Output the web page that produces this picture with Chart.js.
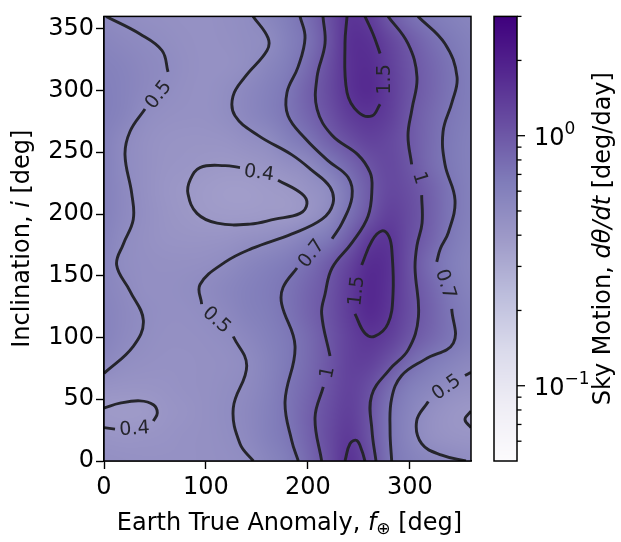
<!DOCTYPE html>
<html>
<head>
<meta charset="utf-8">
<title>Sky motion vs inclination</title>
<script src="https://cdn.jsdelivr.net/npm/chart.js@4.4.1/dist/chart.umd.min.js"></script>
<style>
  body { margin: 0; background: #fff; }
  canvas { display: block; }
</style>
</head>
<body>
<canvas id="skyChart" width="621" height="542"></canvas>
<script>
// grid the map was read on (deg)
const anomalyGrid = [0, 20, 40, 60, 80, 100, 120, 140, 160, 180, 200, 220, 240, 260, 280, 300, 320, 340, 360];
const inclinationGrid = [0, 20, 40, 60, 80, 100, 120, 140, 160, 180, 200, 220, 240, 260, 280, 300, 320, 340, 360];

// sky motion dθ/dt [deg/day], one row per inclination above (i = 0 first)
const skyMotion = [
  [0.47, 0.46, 0.45, 0.45, 0.45, 0.46, 0.47, 0.49, 0.55, 0.64, 0.82, 1.10, 1.60, 1.15, 0.72, 0.60, 0.55, 0.52, 0.49],
  [0.43, 0.42, 0.43, 0.44, 0.45, 0.46, 0.48, 0.52, 0.60, 0.69, 0.87, 1.15, 1.45, 1.05, 0.71, 0.55, 0.46, 0.43, 0.42],
  [0.39, 0.38, 0.39, 0.42, 0.44, 0.46, 0.49, 0.53, 0.60, 0.71, 0.88, 1.12, 1.35, 1.05, 0.71, 0.56, 0.47, 0.42, 0.40],
  [0.44, 0.43, 0.43, 0.44, 0.45, 0.46, 0.48, 0.51, 0.58, 0.70, 0.83, 1.05, 1.30, 1.12, 0.80, 0.62, 0.55, 0.49, 0.46],
  [0.53, 0.48, 0.46, 0.45, 0.45, 0.46, 0.47, 0.50, 0.57, 0.67, 0.80, 1.00, 1.30, 1.32, 1.05, 0.80, 0.66, 0.58, 0.53],
  [0.58, 0.52, 0.48, 0.46, 0.46, 0.47, 0.49, 0.54, 0.60, 0.68, 0.80, 1.00, 1.30, 1.50, 1.35, 1.03, 0.84, 0.71, 0.62],
  [0.58, 0.53, 0.49, 0.47, 0.47, 0.49, 0.53, 0.59, 0.64, 0.72, 0.86, 1.05, 1.38, 1.75, 1.50, 1.12, 0.90, 0.71, 0.62],
  [0.56, 0.51, 0.47, 0.47, 0.48, 0.51, 0.55, 0.60, 0.65, 0.72, 0.85, 1.03, 1.40, 1.80, 1.55, 1.10, 0.85, 0.68, 0.58],
  [0.56, 0.49, 0.47, 0.46, 0.46, 0.47, 0.50, 0.55, 0.60, 0.66, 0.76, 0.95, 1.25, 1.70, 1.60, 1.08, 0.78, 0.63, 0.56],
  [0.58, 0.50, 0.46, 0.44, 0.43, 0.43, 0.44, 0.46, 0.48, 0.52, 0.60, 0.68, 0.93, 1.40, 1.52, 1.12, 0.88, 0.68, 0.58],
  [0.60, 0.52, 0.47, 0.43, 0.41, 0.39, 0.38, 0.38, 0.385, 0.39, 0.42, 0.51, 0.73, 1.00, 1.32, 1.15, 0.92, 0.71, 0.60],
  [0.60, 0.52, 0.46, 0.42, 0.40, 0.38, 0.37, 0.37, 0.38, 0.395, 0.44, 0.49, 0.69, 0.95, 1.20, 1.10, 0.90, 0.71, 0.60],
  [0.60, 0.505, 0.46, 0.43, 0.42, 0.41, 0.40, 0.41, 0.43, 0.47, 0.51, 0.66, 0.83, 1.05, 1.20, 1.02, 0.80, 0.67, 0.60],
  [0.60, 0.51, 0.46, 0.44, 0.43, 0.43, 0.44, 0.47, 0.50, 0.60, 0.71, 0.90, 1.10, 1.30, 1.20, 0.99, 0.80, 0.67, 0.60],
  [0.62, 0.57, 0.49, 0.46, 0.45, 0.45, 0.48, 0.54, 0.60, 0.70, 0.85, 1.06, 1.38, 1.52, 1.35, 1.00, 0.82, 0.69, 0.62],
  [0.62, 0.58, 0.53, 0.49, 0.46, 0.45, 0.48, 0.54, 0.60, 0.69, 0.90, 1.15, 1.55, 1.75, 1.40, 1.05, 0.86, 0.72, 0.63],
  [0.60, 0.57, 0.53, 0.505, 0.47, 0.45, 0.45, 0.48, 0.55, 0.64, 0.80, 1.10, 1.58, 1.70, 1.35, 1.04, 0.85, 0.72, 0.62],
  [0.56, 0.53, 0.505, 0.48, 0.46, 0.45, 0.46, 0.48, 0.50, 0.60, 0.73, 1.03, 1.60, 1.60, 1.25, 0.97, 0.78, 0.67, 0.60],
  [0.51, 0.49, 0.47, 0.46, 0.45, 0.45, 0.47, 0.49, 0.55, 0.64, 0.78, 1.08, 1.52, 1.40, 0.98, 0.76, 0.66, 0.60, 0.56]
];

const xTicks = [0, 100, 200, 300];
const yTicks = [0, 50, 100, 150, 200, 250, 300, 350];
const colorbarRange = [0.05, 3];
const colorbarMajor = [0.1, 1];
const colorbarMinor = [0.06, 0.07, 0.08, 0.09, 0.2, 0.3, 0.4, 0.5, 0.6, 0.7, 0.8, 0.9, 2, 3];

// contour lines as [anomaly, inclination]; broken where a label sits
const c05WestA = [[2, 360], [35.3, 345.8], [56.9, 332.4], [62.8, 315]];
const c05WestB = [[40.2, 285], [25.5, 266.8], [20.6, 247.9], [27.2, 216.5], [28.7, 195.5], [19, 175.8], [12.4, 158.7], [25.5, 137.6], [38.6, 113.9], [28.7, 92.9], [0, 71]];
const c05MidA = [[146.2, 360], [160.9, 342.6], [159.9, 332.4], [138.3, 311], [126.5, 295.3], [128.5, 279.5], [151.1, 263.7], [184.4, 247.9], [204, 235.3], [221.7, 221.8], [224.6, 208.4], [213.9, 195.8], [184.4, 183.9], [145.2, 172.1], [118.7, 161], [94.2, 142.9], [95.8, 127.1]];
const c05MidB = [[126.8, 100.8], [140, 77.1], [126.8, 42.9], [133.4, 14], [146.5, 0]];
const c04Loop = [[170.7, 227.4], [194.2, 216.3], [199.1, 208.4], [192.3, 200.5], [167.7, 195.8], [143.2, 191.8], [110.9, 192.6], [91.2, 200.5], [82.4, 216.3], [84.4, 227.4], [94.2, 237.6], [118.7, 239.2], [133.4, 237.6]];
const c07MidA = [[192.3, 360], [197.2, 342.6], [190.3, 318.9], [179.5, 298.4], [180.5, 279.5], [197.2, 261.3], [219.7, 243.2], [239.4, 229.7], [243.3, 213.9], [233.5, 192.6], [223.7, 180]];
const c07MidB = [[189.3, 156.3], [175.6, 140.5], [174.3, 127.1], [187.4, 92.9], [177.6, 48.2], [184.1, 16.6], [190.6, 0]];
const c1WestA = [[214.8, 360], [216.8, 337.9], [209, 311], [209, 285], [223.7, 263.7], [249.2, 247.9], [261, 233.7], [262.9, 221.8], [259, 198.2], [243.3, 176.8], [223.7, 156.3], [216.8, 135], [213.5, 119.2], [221.7, 85]];
const c1WestB = [[215.1, 60], [207, 35], [213.5, 0]];
const c15NorthA = [[256, 360], [263.9, 345.8], [270.8, 330]];
const c15NorthB = [[270.8, 288.9], [262.9, 279.5], [249.2, 282.6], [238.4, 298.4], [236.4, 337.9], [238.4, 360]];
const c15Loop = [[252.8, 158.7], [262.9, 178.4], [272.7, 186.3], [279.6, 181.6], [282.5, 168.9], [283.5, 135], [278.6, 111.3], [265.8, 101.1], [256, 103.4], [246.2, 119.2]];
const c15South = [[236.4, 0], [241.3, 14], [247.9, 16.6], [252.8, 8.7], [256, 0]];
const c1EastA = [[278.6, 360], [298.2, 337.9], [307, 311], [302.1, 285], [298.2, 263.7], [301.8, 240.2]];
const c1EastB = [[311.6, 215.3], [312, 192.6], [307, 174.5], [305.1, 156.3], [308.4, 116.6], [298.5, 90.2], [280, 74], [262.5, 53], [262.9, 24.5], [266.8, 0]];
const c07EastA = [[308, 360], [334.5, 337.9], [346.3, 311], [341.4, 290.5], [332.6, 266.8], [334.5, 240], [344.3, 211.3], [337.8, 185], [330, 172], [326.4, 161.3]];
const c07EastB = [[341.1, 123.2], [342.7, 95.5], [314.9, 82.3], [292, 69.2], [282.2, 50.8], [280.6, 24.5], [282.2, 0]];
const c05EastA = [[360, 71.8], [354.1, 69.2]];
const c05EastB = [[318.1, 48.2], [306.7, 32.4], [311.6, 14], [331.3, 4.7], [355, 0]];
const c04East = [[360, 40.3], [354.1, 33.7], [360, 27]];
const c04WestA = [[0, 42.9], [15.7, 46.8], [35.3, 48.7], [48.4, 45.5], [52.3, 38.9], [48.4, 32.4]];
const c04WestB = [[10.8, 25.8], [0, 27]];

const contourSegments = [c05WestA, c05WestB, c05MidA, c05MidB, c04Loop, c07MidA, c07MidB, c1WestA, c1WestB,
  c15NorthA, c15NorthB, c15Loop, c15South, c1EastA, c1EastB, c07EastA, c07EastB, c05EastA, c05EastB, c04East, c04WestA, c04WestB];

// inline contour labels: level text, where it sits, and its tilt
const contourLabels = [
  { text: '0.5', x: 53, y: 296.8, angle: -52 },
  { text: '0.4', x: 152.1, y: 233.7, angle: 8 },
  { text: '0.5', x: 110.9, y: 114.5, angle: 42 },
  { text: '0.7', x: 203.1, y: 168.2, angle: -52 },
  { text: '1.5', x: 274.5, y: 309, angle: -90 },
  { text: '1', x: 310.5, y: 229.3, angle: 73 },
  { text: '1.5', x: 247.2, y: 137.8, angle: -84 },
  { text: '1', x: 218.8, y: 71.8, angle: -78 },
  { text: '0.7', x: 335.5, y: 143.3, angle: 72 },
  { text: '0.5', x: 335.5, y: 60, angle: -35 },
  { text: '0.4', x: 29.9, y: 26.4, angle: -4 }
];

const FONT = "'DejaVu Sans', sans-serif";
const LINE_COLOR = '#25252b';

// matplotlib "Purples"
const purples = [[252, 251, 253], [239, 237, 245], [218, 218, 235], [188, 189, 220], [158, 154, 200],
  [128, 125, 186], [106, 81, 163], [84, 39, 143], [63, 0, 125]];

function purpleFor(v) {
  const lo = Math.log(colorbarRange[0]), hi = Math.log(colorbarRange[1]);
  let t = (Math.log(v) - lo) / (hi - lo);
  t = Math.max(0, Math.min(1, t)) * (purples.length - 1);
  const i = Math.min(purples.length - 2, Math.floor(t));
  const f = t - i;
  const a = purples[i], b = purples[i + 1];
  return [0, 1, 2].map(k => Math.round(a[k] + (b[k] - a[k]) * f));
}

const heatmapPlugin = {
  id: 'heatmap',
  beforeDatasetsDraw(chart) {
    const { ctx, chartArea: area, scales: { x, y } } = chart;
    const nx = anomalyGrid.length, ny = inclinationGrid.length;
    const off = document.createElement('canvas');
    off.width = nx;
    off.height = ny;
    const octx = off.getContext('2d');
    const img = octx.createImageData(nx, ny);
    for (let r = 0; r < ny; r++) {
      const row = skyMotion[ny - 1 - r]; // top row of image = highest inclination
      for (let c = 0; c < nx; c++) {
        const rgb = purpleFor(row[c]);
        const k = (r * nx + c) * 4;
        img.data[k] = rgb[0];
        img.data[k + 1] = rgb[1];
        img.data[k + 2] = rgb[2];
        img.data[k + 3] = 255;
      }
    }
    octx.putImageData(img, 0, 0);

    const hx = (anomalyGrid[1] - anomalyGrid[0]) / 2;
    const hy = (inclinationGrid[1] - inclinationGrid[0]) / 2;
    const x0 = x.getPixelForValue(anomalyGrid[0] - hx);
    const x1 = x.getPixelForValue(anomalyGrid[nx - 1] + hx);
    const y0 = y.getPixelForValue(inclinationGrid[ny - 1] + hy);
    const y1 = y.getPixelForValue(inclinationGrid[0] - hy);

    ctx.save();
    ctx.beginPath();
    ctx.rect(area.left, area.top, area.right - area.left, area.bottom - area.top);
    ctx.clip();
    ctx.imageSmoothingEnabled = true;
    ctx.imageSmoothingQuality = 'high';
    ctx.drawImage(off, x0, y0, x1 - x0, y1 - y0);
    ctx.restore();
  }
};

// draws text made of plain / italic / small parts; align 'center' or 'left'
function drawRich(ctx, parts, x, y, angle, align) {
  ctx.save();
  ctx.translate(x, y);
  ctx.rotate(angle);
  ctx.textAlign = 'left';
  ctx.textBaseline = 'alphabetic';
  let total = 0;
  parts.forEach(p => {
    ctx.font = p.font;
    p.w = ctx.measureText(p.text).width;
    total += p.w;
  });
  let cx = align === 'left' ? 0 : -total / 2;
  parts.forEach(p => {
    ctx.font = p.font;
    ctx.fillText(p.text, cx, p.dy || 0);
    cx += p.w;
  });
  ctx.restore();
}

const decorPlugin = {
  id: 'decor',
  afterDatasetsDraw(chart) {
    const { ctx, chartArea: area, scales: { x, y } } = chart;

    // contour labels
    ctx.save();
    ctx.fillStyle = LINE_COLOR;
    ctx.font = '19px ' + FONT;
    ctx.textAlign = 'center';
    ctx.textBaseline = 'middle';
    contourLabels.forEach(l => {
      ctx.save();
      ctx.translate(x.getPixelForValue(l.x), y.getPixelForValue(l.y));
      ctx.rotate(l.angle * Math.PI / 180);
      ctx.fillText(l.text, 0, 1);
      ctx.restore();
    });
    ctx.restore();

    // axes frame
    ctx.save();
    ctx.strokeStyle = '#000';
    ctx.lineWidth = 1.5;
    ctx.strokeRect(area.left, area.top, area.right - area.left, area.bottom - area.top);
    ctx.restore();
  },
  afterDraw(chart) {
    const { ctx, chartArea: area, scales: { cb } } = chart;
    const cbLeft = area.right + 23, cbRight = area.right + 46;

    // colour bar
    ctx.save();
    for (let p = Math.floor(cb.top); p < cb.bottom; p++) {
      const rgb = purpleFor(cb.getValueForPixel(p + 0.5));
      ctx.fillStyle = `rgb(${rgb[0]},${rgb[1]},${rgb[2]})`;
      ctx.fillRect(cbLeft, p, cbRight - cbLeft, 1);
    }
    ctx.strokeStyle = '#000';
    ctx.lineWidth = 1.5;
    ctx.strokeRect(cbLeft, cb.top, cbRight - cbLeft, cb.bottom - cb.top);

    ctx.lineWidth = 1.3;
    colorbarMinor.forEach(v => {
      const py = cb.getPixelForValue(v);
      ctx.beginPath();
      ctx.moveTo(cbRight, py);
      ctx.lineTo(cbRight + 4.5, py);
      ctx.stroke();
    });
    ctx.fillStyle = '#000';
    colorbarMajor.forEach(v => {
      const py = cb.getPixelForValue(v);
      ctx.beginPath();
      ctx.moveTo(cbRight, py);
      ctx.lineTo(cbRight + 8, py);
      ctx.stroke();
      const exp = Math.round(Math.log10(v));
      drawRich(ctx, [
        { text: '10', font: '24px ' + FONT },
        { text: exp < 0 ? '\u2212' + (-exp) : String(exp), font: '17px ' + FONT, dy: -11 }
      ], cbRight + 17, py + 9.5, 0, 'left');
    });
    ctx.restore();

    // axis titles with math parts
    ctx.save();
    ctx.fillStyle = '#000';
    drawRich(ctx, [
      { text: 'Earth True Anomaly, ', font: '24px ' + FONT },
      { text: 'f', font: 'italic 24px ' + FONT },
      { text: '\u2295', font: '17px ' + FONT, dy: 4 },
      { text: ' [deg]', font: '24px ' + FONT }
    ], (area.left + area.right) / 2 + 2, 530, 0);
    drawRich(ctx, [
      { text: 'Inclination, ', font: '24px ' + FONT },
      { text: 'i', font: 'italic 24px ' + FONT },
      { text: ' [deg]', font: '24px ' + FONT }
    ], 29, (area.top + area.bottom) / 2, -Math.PI / 2);
    drawRich(ctx, [
      { text: 'Sky Motion, ', font: '24px ' + FONT },
      { text: 'd\u03b8/dt', font: 'italic 24px ' + FONT },
      { text: ' [deg/day]', font: '24px ' + FONT }
    ], 610, (cb.top + cb.bottom) / 2, -Math.PI / 2);
    ctx.restore();
  }
};

const datasets = contourSegments.map(seg => ({
  data: seg.map(([a, i]) => ({ x: a, y: i })),
  showLine: true,
  borderColor: LINE_COLOR,
  borderWidth: 2.9,
  pointRadius: 0,
  tension: 0.4,
  fill: false,
  clip: 0,
  xAxisID: 'x',
  yAxisID: 'y'
}));

const axisFont = { family: FONT, size: 24 };

new Chart(document.getElementById('skyChart'), {
  type: 'scatter',
  data: { datasets },
  plugins: [heatmapPlugin, decorPlugin],
  options: {
    responsive: false,
    devicePixelRatio: 1,
    animation: false,
    events: [],
    layout: { padding: { top: 5, right: 150, bottom: 0, left: 0 } },
    plugins: { legend: { display: false }, tooltip: { enabled: false } },
    scales: {
      x: {
        type: 'linear',
        min: 0,
        max: 360,
        afterBuildTicks: s => { s.ticks = xTicks.map(v => ({ value: v })); },
        afterFit: s => { s.height = 81; },
        ticks: { color: '#000', font: axisFont, padding: 4, maxRotation: 0 },
        grid: { drawOnChartArea: false, drawTicks: true, tickLength: 8, tickColor: '#000', tickWidth: 1.4 },
        border: { display: true, color: '#000', width: 1.5 }
      },
      y: {
        type: 'linear',
        min: 0,
        max: 360,
        afterBuildTicks: s => { s.ticks = yTicks.map(v => ({ value: v })); },
        afterFit: s => { s.width = 104; },
        ticks: { color: '#000', font: axisFont, padding: 2 },
        grid: { drawOnChartArea: false, drawTicks: true, tickLength: 8, tickColor: '#000', tickWidth: 1.4 },
        border: { display: true, color: '#000', width: 1.5 }
      },
      cb: {
        type: 'logarithmic',
        position: 'right',
        display: false,
        min: colorbarRange[0],
        max: colorbarRange[1]
      }
    }
  }
});
</script>
</body>
</html>
